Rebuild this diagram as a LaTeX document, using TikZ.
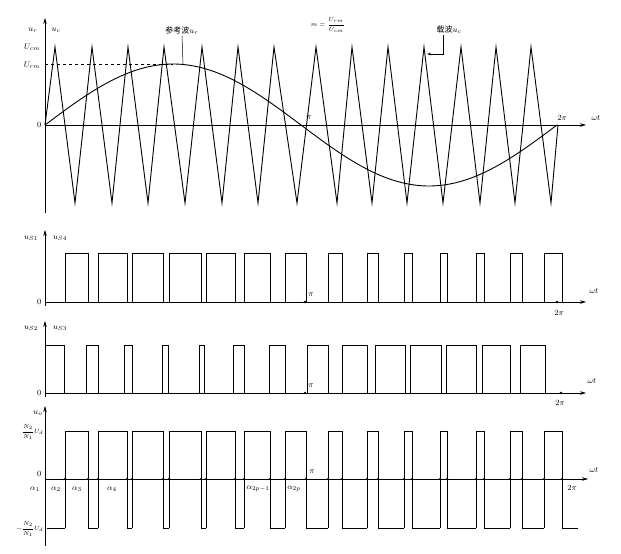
\documentclass[tikz,border=0pt]{standalone}
\usepackage{fontspec}
\newfontfamily\cjk{Noto Sans CJK SC}
\usetikzlibrary{arrows.meta}
\begin{document}
\begin{tikzpicture}[x=1pt,y=-1pt,
  axis/.style={line width=0.6pt,-{Stealth[length=6pt,width=3.5pt]}},
  wave/.style={line width=0.9pt},
  pulse/.style={line width=0.7pt},
  lead/.style={line width=0.5pt},
  lbl/.style={font=\fontsize{8}{9}\selectfont,inner sep=0.5pt},
  flbl/.style={font=\fontsize{6.5}{7}\selectfont,inner sep=0.5pt},
  dot/.style={circle,fill,inner sep=0pt,minimum size=2.6pt}]
\useasboundingbox (0,0) rectangle (621,554);
% ---------------- panel 1 ----------------
\draw[axis] (45,213) -- (45,18);
\draw[axis] (45,125) -- (586,125);
\draw[dashed,line width=0.5pt] (45,64) -- (173,64);
\draw[wave] plot[domain=0:360,samples=91] ({45+\x/360*512},{125-61*sin(\x)});
\draw[wave] (45,125) -- (55,47) -- (75,203) -- (92,47) -- (112,203) -- (128,47)
  -- (148,203) -- (164,47) -- (185,203) -- (202,47) -- (222,203) -- (238,47)
  -- (258,203) -- (274,47) -- (297,203) -- (316,47) -- (337,203) -- (352,47)
  -- (372,203) -- (388,47) -- (407,203) -- (424,47) -- (443,203) -- (461,47)
  -- (480,203) -- (496,47) -- (515,203) -- (531,47) -- (551,203) -- (558,125);
\node[lbl] (ur) at (33,30) {$u_r$};
\node[lbl] (uc) at (56,30) {$u_c$};
\node[lbl,anchor=east] (ucm) at (41,47) {$U_{cm}$};
\node[lbl,anchor=east] (urm) at (41,65) {$U_{rm}$};
\node[lbl,anchor=east] (o1) at (42,125) {$0$};
\node[lbl] (pi1) at (309,118) {$\pi$};
\node[lbl] (tpi1) at (562,118) {$2\pi$};
\node[lbl] (wt1) at (596,118) {$\omega t$};
\node[lbl] (refw) at (182,31) {{\cjk 参考波}$u_r$};
\coordinate (refp) at (183,64);
\draw[lead] (refw.south) -- (refp);
\node[flbl] (mm) at (328,25) {$m=\displaystyle\frac{U_{rm}}{U_{cm}}$};
\node[lbl,anchor=west] (carw) at (436,30) {{\cjk 载波}$u_c$};
\coordinate (carp) at (427,54);
\draw[lead,-{Stealth[length=4pt,width=2.5pt]}] (carw.south west) ++(7,0) |- (carp);
% ---------------- panel 2 ----------------
\draw[axis] (45,306) -- (45,230);
\draw[axis] (45,302) -- (586,302);
\foreach \a/\b in {65/88,98/127,132/163,169/201,206/235,244/270,285/306,328/342,367/378,404/412,440/447,476/484,510/522,544/562}
  \draw[pulse] (\a,302) -- (\a,253) -- (\b,253) -- (\b,302);
\node[dot] (d2a) at (305,302) {};
\node[dot] (d2b) at (557,302) {};
\node[lbl] (us1) at (31,238) {$u_{S1}$};
\node[lbl] (us4) at (60,238) {$u_{S4}$};
\node[lbl,anchor=east] (o2) at (42,302) {$0$};
\node[lbl] (pi2) at (311,295) {$\pi$};
\node[lbl] (tpi2) at (559,313) {$2\pi$};
\node[lbl] (wt2) at (594,291) {$\omega t$};
% ---------------- panel 3 ----------------
\draw[axis] (45,397) -- (45,321);
\draw[axis] (45,393) -- (586,393);
\draw[pulse] (45,345) -- (64,345) -- (64,393);
\foreach \a/\b in {86/98,124/132,162/168,199/204,233/244,269/285,307/328,342/367,375/405,410/441,446/476,482/510,520/545}
  \draw[pulse] (\a,393) -- (\a,345) -- (\b,345) -- (\b,393);
\node[dot] (d3a) at (305,393) {};
\node[dot] (d3b) at (561,393) {};
\node[lbl] (us2) at (31,328) {$u_{S2}$};
\node[lbl] (us3) at (60,328) {$u_{S3}$};
\node[lbl,anchor=east] (o3) at (42,393) {$0$};
\node[lbl] (pi3) at (311,386) {$\pi$};
\node[lbl] (tpi3) at (560,403) {$2\pi$};
\node[lbl] (wt3) at (592,381) {$\omega t$};
% ---------------- panel 4 ----------------
\draw[axis] (45,546) -- (45,406);
\draw[axis] (45,479) -- (588,479);
\draw[pulse] (47,528) -- (65,528);
\foreach \a/\b/\n in {65/88/98,98/127/132,132/163/169,169/201/206,206/235/244,244/270/285,285/306/328,328/342/367,367/378/404,404/412/440,440/447/476,476/484/510,510/522/544,544/562/578}{
  \draw[pulse] (\a,528) -- (\a,431) -- (\b,431) -- (\b,528) -- (\n,528);
  \fill (\a,479) circle (1.2pt);
  \fill (\b,479) circle (1.2pt);
}
\node[lbl] (uo) at (38,413) {$u_o$};
\node[flbl,anchor=east] (hi) at (44,432) {$\displaystyle\frac{N_2}{N_1}U_d$};
\node[flbl,anchor=east] (lo) at (44,529) {$-\displaystyle\frac{N_2}{N_1}U_d$};
\node[lbl,anchor=east] (o4) at (42,474) {$0$};
\node[lbl] (pi4) at (312,472) {$\pi$};
\node[lbl] (tpi4) at (572,488) {$2\pi$};
\node[lbl] (wt4) at (594,470) {$\omega t$};
\node[lbl] (al1) at (35,489) {$\alpha_1$};
\node[lbl] (al2) at (56,489) {$\alpha_2$};
\node[lbl] (al3) at (77,489) {$\alpha_3$};
\node[lbl] (al4) at (112,489) {$\alpha_4$};
\node[lbl] (al5) at (258,489) {$\alpha_{2p-1}$};
\node[lbl] (al6) at (294,489) {$\alpha_{2p}$};
\end{tikzpicture}
\end{document}
